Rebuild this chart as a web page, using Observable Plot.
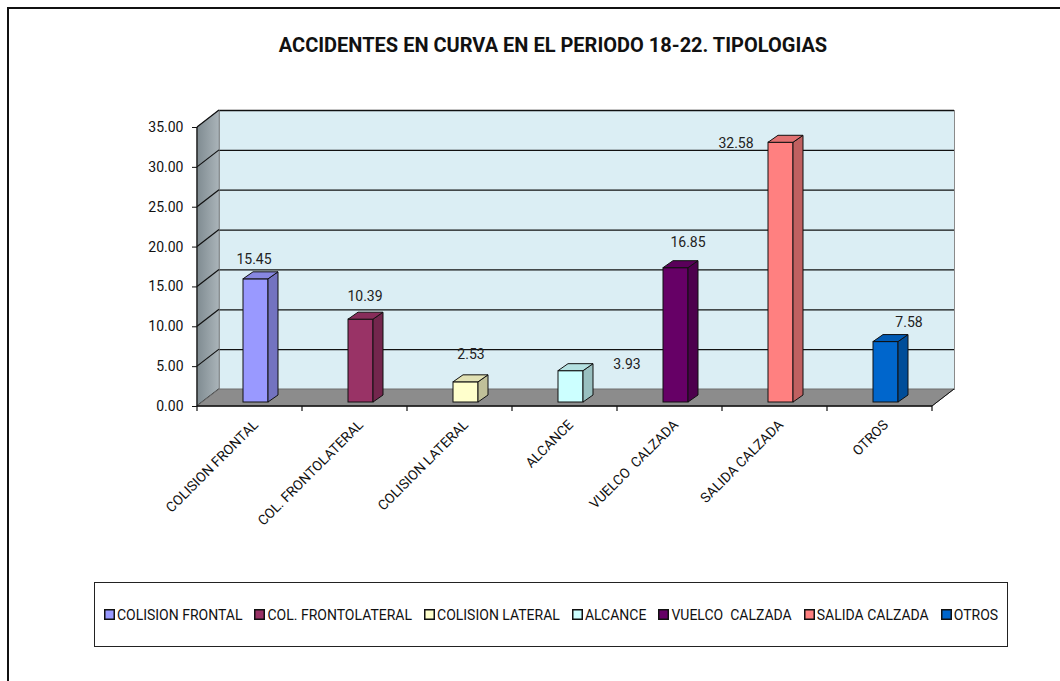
<!DOCTYPE html>
<html>
<head>
<meta charset="utf-8">
<script src="https://cdn.jsdelivr.net/npm/d3@7"></script>
<script src="https://cdn.jsdelivr.net/npm/@observablehq/plot@0.6"></script>
<style>
  body { margin: 0; background: #fff; width: 1060px; height: 681px; position: relative; overflow: hidden; }
  #frame { position: absolute; left: 7px; top: 7px; width: 1060px; height: 681px; border-top: 2px solid #111; border-left: 2px solid #111; }
  #title { position: absolute; top: 35px; left: 553px; transform: translateX(-50%); white-space: nowrap;
           font: bold 20px Roboto, "Liberation Sans", sans-serif; line-height: 1; color: #111; }
  #chart { position: absolute; left: 0; top: 90px; }
  #chart svg text { white-space: pre; }
  #legend { position: absolute; left: 94px; top: 582px; width: 912px; height: 63px; border: 1px solid #222;
            display: flex; align-items: center; justify-content: center; gap: 12px;
            font: 14px Roboto, "Liberation Sans", sans-serif; color: #111; }
  .item { display: flex; align-items: center; white-space: pre; flex-shrink: 0; }
  .item svg { flex: 0 0 auto; margin-right: 2px; }
</style>
</head>
<body>
<div id="frame"></div>
<div id="title">ACCIDENTES EN CURVA EN EL PERIODO 18-22. TIPOLOGIAS</div>
<div id="chart"></div>
<div id="legend"></div>
<script>
const categories = ["COLISION FRONTAL", "COL. FRONTOLATERAL", "COLISION LATERAL", "ALCANCE", "VUELCO  CALZADA", "SALIDA CALZADA", "OTROS"];
const values = [15.45, 10.39, 2.53, 3.93, 16.85, 32.58, 7.58];
const colors = ["#9999FF", "#993366", "#FFFFCC", "#CCFFFF", "#660066", "#FF8080", "#0066CC"];
const yTicks = [0, 5, 10, 15, 20, 25, 30, 35];

const data = categories.map((c, i) => ({cat: c, value: values[i], color: colors[i]}));

// 3D geometry (pixels)
const WALL = {dx: 22, dy: -17};   // depth of the back wall
const BAR = {dx: 6, dy: -4};      // bar front-face offset into the floor
const BD = {dx: 10, dy: -7};      // bar depth
const INSET = 40;

function bw(sx) { return typeof sx.bandwidth === "function" ? sx.bandwidth() : sx.bandwidth; }
const poly = pts => pts.map(p => p.join(",")).join(" ");

// left wall, floor and wall gridline diagonals
function walls(index, scales, vals, dims) {
  const sy = scales.y;
  const x0 = dims.marginLeft, x1 = dims.width - dims.marginRight;
  const yb = sy(0), yt = sy(d3.max(yTicks));
  const g = d3.create("svg:g");
  const defs = g.append("defs");
  const lg = defs.append("linearGradient").attr("id", "lw").attr("x1", 0).attr("x2", 1).attr("y1", 0).attr("y2", 0);
  lg.append("stop").attr("offset", 0).attr("stop-color", "#7f8b91");
  lg.append("stop").attr("offset", 1).attr("stop-color", "#aab4b9");
  g.append("polygon")
    .attr("points", poly([[x0, yb], [x0, yt], [x0 + WALL.dx, yt + WALL.dy], [x0 + WALL.dx, yb + WALL.dy]]))
    .attr("fill", "url(#lw)").attr("stroke", "#8a9398");
  for (const t of yTicks) {
    g.append("line").attr("x1", x0).attr("y1", sy(t)).attr("x2", x0 + WALL.dx).attr("y2", sy(t) + WALL.dy)
      .attr("stroke", "#111").attr("stroke-width", 1.2);
  }
  g.append("polygon")
    .attr("points", poly([[x0, yb], [x1, yb], [x1 + WALL.dx, yb + WALL.dy], [x0 + WALL.dx, yb + WALL.dy]]))
    .attr("fill", "#8c8c8c").attr("stroke", "#6e6e6e");
  // axis lines and band boundary ticks
  g.append("line").attr("x1", x0).attr("x2", x0).attr("y1", yb).attr("y2", yt).attr("stroke", "#111").attr("stroke-width", 1.3);
  g.append("line").attr("x1", x0).attr("x2", x1).attr("y1", yb).attr("y2", yb).attr("stroke", "#111").attr("stroke-width", 1.3);
  g.append("line").attr("x1", x1).attr("x2", x1 + WALL.dx).attr("y1", yb).attr("y2", yb + WALL.dy).attr("stroke", "#111");
  const sx = scales.x;
  const bounds = categories.map(c => sx(c)).concat([sx(categories[categories.length - 1]) + bw(sx)]);
  for (const b of bounds) {
    g.append("line").attr("x1", b).attr("x2", b).attr("y1", yb).attr("y2", yb + 5).attr("stroke", "#111").attr("stroke-width", 1.2);
  }
  return g.node();
}

// side and top faces of the bars
function barFaces(index, scales, vals, dims) {
  const sx = scales.x, sy = scales.y, w = bw(sx);
  const g = d3.create("svg:g");
  data.forEach(d => {
    const L = sx(d.cat) + INSET + BAR.dx, R = sx(d.cat) + w - INSET + BAR.dx;
    const T = sy(d.value) + BAR.dy, B = sy(0) + BAR.dy;
    g.append("polygon")
      .attr("points", poly([[R, T], [R + BD.dx, T + BD.dy], [R + BD.dx, B + BD.dy], [R, B]]))
      .attr("fill", d3.color(d.color).darker(0.8)).attr("stroke", "#111").attr("stroke-linejoin", "round");
    g.append("polygon")
      .attr("points", poly([[L, T], [L + BD.dx, T + BD.dy], [R + BD.dx, T + BD.dy], [R, T]]))
      .attr("fill", d3.color(d.color).darker(0.35)).attr("stroke", "#111").attr("stroke-linejoin", "round");
  });
  return g.node();
}

function label(i, dx, dy) {
  return Plot.text([data[i]], {
    x: "cat", y: "value", text: d => d.value.toFixed(2),
    dx: BAR.dx + dx, dy: BAR.dy + dy, fill: "#222", lineAnchor: "middle", textAnchor: "middle"
  });
}

const chart = Plot.plot({
  width: 1060,
  height: 460,
  marginLeft: 197,
  marginRight: 128,
  marginTop: 37,
  marginBottom: 144,
  style: {fontFamily: 'Roboto, "Liberation Sans", sans-serif', fontSize: "14px", color: "#111", background: "transparent", overflow: "visible"},
  x: {type: "band", domain: categories, padding: 0, label: null},
  y: {domain: [0, 35], label: null},
  color: {type: "identity"},
  marks: [
    Plot.frame({fill: "#DBEEF4", stroke: "#8a8a8a", dx: WALL.dx, dy: WALL.dy}),
    Plot.ruleY(yTicks.filter(t => t > 0), {dx: WALL.dx, dy: WALL.dy, stroke: "#111", strokeWidth: 1.3}),
    walls,
    Plot.barY(data, {x: "cat", y: "value", fill: "color", stroke: "#111", strokeWidth: 1,
                     insetLeft: INSET, insetRight: INSET, dx: BAR.dx, dy: BAR.dy}),
    barFaces,
    Plot.axisY({ticks: yTicks, tickFormat: d => d.toFixed(2), tickSize: 5, tickPadding: 9, stroke: "#111", label: null}),
    Plot.axisX({tickSize: 0, tickRotate: -45, tickPadding: 16, dx: BAR.dx, fontSize: 13.8, label: null}),
    label(0, -2, -20),
    label(1, 4, -23),
    label(2, 5, -28),
    label(3, 56, -7),
    label(4, 12, -26),
    label(5, -45, 1),
    label(6, 23, -20)
  ]
});
document.getElementById("chart").appendChild(chart);

const legend = d3.select("#legend");
data.forEach(d => {
  const it = legend.append("div").attr("class", "item");
  it.append("svg").attr("width", 11).attr("height", 11)
    .append("rect").attr("x", 0.75).attr("y", 0.75).attr("width", 9.5).attr("height", 9.5)
    .attr("fill", d.color).attr("stroke", "#111").attr("stroke-width", 1.5);
  it.append("span").text(d.cat);
});
</script>
</body>
</html>
